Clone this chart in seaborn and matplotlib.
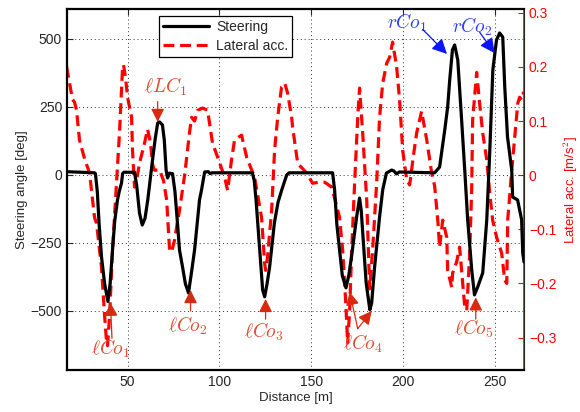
import numpy as np
import pandas as pd
import matplotlib
matplotlib.use("Agg")
import matplotlib.pyplot as plt
import seaborn as sns

# steering trace (distance [m], angle [deg])
steer_dist = [17, 32, 32.5, 33.5, 34.5, 35.8, 37.5, 39.3, 40.5, 41.8, 43, 44.5, 45.5, 46.7, 47.3, 48,
              53.8, 55, 56.5, 58, 59.5, 61, 63.6, 65, 66.4, 67.4, 69, 70, 71, 71.8, 72.9, 74, 74.5,
              75.8, 77, 78.3, 80, 81.5, 83.2, 85, 86.5, 89.2, 90.3, 91.2, 92, 94, 95, 96,
              118, 119, 120, 122, 123.6, 124.7, 126, 127.4, 130, 132, 134, 136.7, 138,
              161.7, 162.8, 164, 165.5, 167, 169, 170.5, 172, 174.8, 176.4, 177.3, 178.5, 180, 182,
              183, 184.6, 187.3, 189, 191, 193.9, 195, 196.6, 198,
              217.3, 220, 222.8, 224.4, 225.5, 227, 228.2, 229.9, 232, 233.7, 235.3, 237.5, 239,
              240.8, 243.5, 245.7, 247.3, 249, 251, 252.7, 254.4, 255.5, 257, 259.3, 259.8, 262.5,
              264.7, 265.3, 266]
steer_deg = [12, 8, 5, -60, -180, -301, -400, -465, -400, -276, -170, -92, -60, -30, 5, 10,
             10, -40, -140, -184, -160, -92, 55, 130, 191, 195, 184, 129, 18, -11, 7, 5, 5,
             -60, -160, -276, -340, -400, -434, -350, -276, -92, -55, -20, 11, 12, 5, 8,
             8, -20, -92, -276, -423, -448, -400, -338, -176, -100, -55, 0, 8,
             8, -55, -180, -276, -370, -415, -370, -301, -154, -85, -130, -250, -397, -496,
             -470, -338, -154, -55, 7, 18, 15, 4, 11,
             8, 29, 165, 250, 349, 460, 478, 423, 202, 18, -165, -349, -441,
             -411, -360, -165, 81, 386, 496, 522, 507, 324, 140, 18, -81, -92,
             -165, -287, -320]

# lateral acceleration trace (distance [m], acc [m/s^2])
lat_dist = [16.8, 18.4, 20.0, 21.1, 22.2, 23.8, 26.6, 29.3, 32.0, 33.1, 35.8, 37.5, 38.6, 39.1,
            40.2, 41.8, 44.0, 45.6, 47.3, 47.8, 48.9, 50, 52.2, 52.7, 53.8, 54.9, 56.5, 59.3,
            60.9, 62.5, 63.6, 64.7, 67.4, 69.6, 71.3, 72.9, 74.0, 75.6, 76.7, 78.3, 81.1, 83.8,
            84.9, 86.5, 88.2, 90.9, 93.6, 96.3, 99.1, 102.9, 104.5, 106.7, 108.3, 112.1, 114.9,
            119.2, 123.0, 124.7, 125.2, 126.3, 128.5, 130.1, 131.8, 133.9, 135.6, 137.2, 139.4,
            139.9, 142.7, 143.7, 147.6, 150.8, 154.1, 157.4, 161.2, 163.4, 165.5, 167.2, 168.8,
            169.9, 171.0, 172.1, 173.7, 175.4, 176.4, 178.1, 180.3, 181.9, 183.5, 185.7, 187.3,
            189.0, 191.2, 192.8, 194.4, 196.6, 198.2, 199.9, 202.1, 203.7, 205.9, 207.5, 210.2,
            213.0, 215.7, 217.3, 219.0, 220.0, 221.7, 223.9, 224.4, 226.6, 227.1, 229.3, 230.9,
            232.6, 233.7, 234.8, 236.4, 237.5, 238.0, 240.2, 241.8, 243.5, 245.7, 247.3, 248.9,
            251.1, 253.8, 255.5, 256.6, 257.1, 259.3, 260.9, 262.6, 263.6, 264.7, 265.8]
lat_acc = [0.20, 0.17, 0.14, 0.135, 0.12, 0.065, 0.03, 0.004, -0.078, -0.089, -0.17, -0.26, -0.31, -0.315,
           -0.26, -0.139, -0.015, 0.078, 0.2, 0.204, 0.18, 0.144, 0.107, 0.046, -0.022, -0.01, 0.022, 0.06,
           0.085, 0.06, 0.02, 0.009, 0.01, -0.01, -0.046, -0.139, -0.142, -0.12, -0.096, -0.065, 0.0, 0.08,
           0.107, 0.10, 0.12, 0.124, 0.12, 0.059, 0.033, -0.004, -0.028, 0.03, 0.065, 0.074, 0.033,
           -0.004, -0.078, -0.163, -0.176, -0.15, -0.065, 0.046, 0.107, 0.163, 0.17, 0.152, 0.107,
           0.089, 0.022, 0.018, 0.004, -0.015, -0.013, -0.013, -0.022, -0.05, -0.078, -0.139, -0.231,
           -0.31, -0.25, -0.139, -0.015, 0.107, 0.161, 0.078, -0.046, -0.21, -0.139, -0.015, 0.107,
           0.17, 0.207, 0.218, 0.246, 0.2, 0.139, 0.046, -0.009, -0.018, 0.04, 0.078, 0.118,
           0.065, 0.004, -0.02, -0.083, -0.133, -0.083, -0.115, -0.176, -0.207, -0.181, -0.16, -0.133,
           -0.2, -0.244, -0.25, -0.144, -0.022, 0.102, 0.19, 0.133, 0.078, 0.028, -0.033, -0.083,
           -0.115, -0.144, -0.194, -0.2, -0.083, 0.009, 0.07, 0.133, 0.144, 0.139, 0.154]

# annotations: label, text pos, arrow tails, arrow tips (steering axis coords)
lo_labels = [r'$\ell LC_1$', r'$\ell Co_1$', r'$\ell Co_2$', r'$\ell Co_3$', r'$\ell Co_4$', r'$\ell Co_5$']
lo_text = [(70.5, 325), (40.5, -640), (83, -555), (124.5, -575), (178, -620), (238.5, -565)]
lo_tails = [[(66.4, 270)], [(41.5, -600)], [(84.3, -500)], [(125.2, -530)],
            [(175.4, -565), (175.4, -565)], [(239.7, -530)]]
lo_tips = [[(66.4, 195)], [(40.7, -470)], [(84.3, -423)], [(125.2, -456)],
           [(171, -430), (183, -500)], [(239.7, -450)]]
r_labels = [r'$rCo_1$', r'$rCo_2$']
r_text = [(202, 560), (237.5, 545)]
r_tails = [(210.8, 535), (241.8, 525)]
r_tips = [(224, 445), (250, 448)]

steer = pd.DataFrame({"dist": steer_dist, "deg": steer_deg})
lat = pd.DataFrame({"dist": lat_dist, "acc": lat_acc})

sns.set_style("white")
plt.rcParams['font.family'] = ['Liberation Sans', 'DejaVu Sans']
plt.rcParams['mathtext.fontset'] = 'cm'

fig = plt.figure(figsize=(5.8, 4.12), dpi=100)
ax = fig.add_axes([0.1155, 0.102, 0.788, 0.876])
ax2 = ax.twinx()

sns.lineplot(data=steer, x="dist", y="deg", ax=ax, color="black", lw=2.3, label="Steering",
             sort=False, legend=False)
sns.lineplot(data=lat, x="dist", y="acc", ax=ax2, color="#ff0000", lw=2.3, label="Lateral acc.",
             sort=False, legend=False, dashes=False)
ax2.lines[0].set_dashes((3.4, 1.8))

ax.set_xlim(17, 266)
ax.set_ylim(-717, 610)
ax2.set_ylim(-0.36, 0.307)
ax.set_xticks([50, 100, 150, 200, 250])
ax.set_yticks([-500, -250, 0, 250, 500])
ax2.set_yticks([-0.3, -0.2, -0.1, 0, 0.1, 0.2, 0.3])
ax2.set_yticklabels(['\u22120.3', '\u22120.2', '\u22120.1', '0', '0.1', '0.2', '0.3'])

ax.grid(True, linestyle=(0, (1, 3)), color="#333333", lw=0.7)
ax.set_xlabel("Distance [m]", fontsize=9.5, labelpad=2)
ax.set_ylabel("Steering angle [deg]", fontsize=9.5, labelpad=2)
ax2.set_ylabel(r"Lateral acc. [m/s$^2$]", fontsize=9.5, color="#ff0000", labelpad=4)

ax.tick_params(direction="in", length=4, labelsize=10, top=True, right=False, width=0.8)
ax2.tick_params(direction="in", length=4, labelsize=10, colors="#ff0000", width=0.8)
for s in ["left", "bottom", "top"]:
    ax.spines[s].set_linewidth(1.6)
    ax.spines[s].set_color("black")
ax2.spines["right"].set_color("#ff0000")
ax2.spines["right"].set_linewidth(1.2)
for s in ["left", "bottom", "top"]:
    ax2.spines[s].set_visible(False)

# annotations
for lab, tpos, tails, tips in zip(lo_labels, lo_text, lo_tails, lo_tips):
    ax.text(tpos[0], tpos[1], lab, color="#e24c32", fontsize=14, ha="center", va="center", zorder=6)
    for tail, tip in zip(tails, tips):
        ax.annotate("", xy=tip, xytext=tail, zorder=6,
                    arrowprops=dict(arrowstyle="-|>,head_length=0.8,head_width=0.4",
                                    color="#d82a10", lw=0.9, shrinkA=0, shrinkB=0))
for lab, tpos, tail, tip in zip(r_labels, r_text, r_tails, r_tips):
    ax.text(tpos[0], tpos[1], lab, color="#3040f0", fontsize=14, ha="center", va="center", zorder=6)
    ax.annotate("", xy=tip, xytext=tail, zorder=6,
                arrowprops=dict(arrowstyle="-|>,head_length=0.9,head_width=0.45",
                                color="#0a14ff", lw=0.9, shrinkA=0, shrinkB=0))

# move text/annotations above the twin axes
ax.set_zorder(ax2.get_zorder() + 1)
ax.patch.set_visible(False)
for ln in ax.lines:
    ln.set_zorder(1)

h1 = ax.lines[:1]
h2 = ax2.lines[:1]
leg = ax.legend(h1 + h2, ["Steering", "Lateral acc."], loc="upper left", bbox_to_anchor=(0.186, 1.0),
                fontsize=10, frameon=True, fancybox=False, edgecolor="black", framealpha=1,
                borderpad=0.3, handlelength=3.3, labelspacing=0.35, handletextpad=0.5)
leg.get_frame().set_linewidth(0.9)
leg.set_zorder(10)

fig.savefig("out.png", dpi=100)
